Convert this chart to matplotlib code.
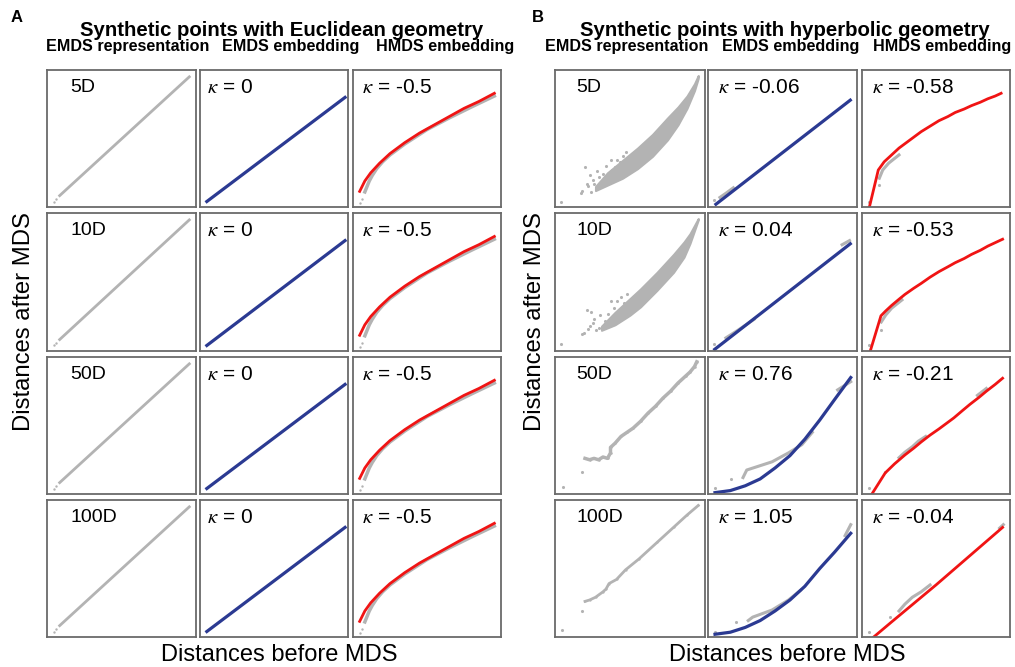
import matplotlib
matplotlib.use("Agg")
import matplotlib.pyplot as plt

plt.rcParams['font.family'] = ['Liberation Sans', 'DejaVu Sans']
plt.rcParams['mathtext.fontset'] = 'stix'
NA = float("nan")

# ---------------- data (normalised axis units) ----------------
col_headers = ["EMDS representation", "EMDS embedding", "HMDS embedding"]
a_title = "Synthetic points with Euclidean geometry"
b_title = "Synthetic points with hyperbolic geometry"
dims = ["5D", "10D", "50D", "100D"]
a_kappa_emds = ["0", "0", "0", "0"]
a_kappa_hmds = ["-0.5", "-0.5", "-0.5", "-0.5"]
b_kappa_emds = ["-0.06", "0.04", "0.76", "1.05"]
b_kappa_hmds = ["-0.58", "-0.53", "-0.21", "-0.04"]

# Panel A - EMDS representation (diagonal)
a_rep_pts_x = [0.045, 0.063]
a_rep_pts_y = [0.040, 0.058]
a_rep_line_x = [0.085, 0.955]
a_rep_line_y = [0.083, 0.950]
# Panel A - EMDS embedding (blue line)
a_emds_x = [0.046, 0.98]
a_emds_y = [0.040, 0.80]
# Panel A - HMDS embedding
a_hmds_curve_x = [0.045, 0.08, 0.12, 0.18, 0.25, 0.35, 0.45, 0.55, 0.65, 0.75, 0.85, 0.955]
a_hmds_curve_y = [0.114, 0.19, 0.25, 0.32, 0.39, 0.47, 0.54, 0.60, 0.66, 0.72, 0.77, 0.83]
a_hmds_pts_x = [0.045, 0.062]
a_hmds_pts_y = [0.030, 0.060]
a_hmds_gray_x = [0.08, 0.095, 0.11, 0.13, 0.16, 0.20, 0.25, 0.35, 0.50, 0.65, 0.80, 0.955]
a_hmds_gray_y = [0.11, 0.15, 0.19, 0.23, 0.28, 0.33, 0.38, 0.46, 0.565, 0.65, 0.73, 0.81]

# Panel B - EMDS representation, 5D (dense band + outliers)
b5_band_x = [0.27, 0.35, 0.45, 0.55, 0.65, 0.75, 0.82, 0.88, 0.93, 0.955]
b5_band_lo = [0.12, 0.16, 0.21, 0.28, 0.37, 0.49, 0.60, 0.72, 0.85, 0.94]
b5_band_hi = [0.15, 0.25, 0.34, 0.43, 0.53, 0.65, 0.73, 0.81, 0.90, 0.96]
b5_out_x = [0.04, 0.17, 0.18, 0.20, 0.21, 0.22, 0.23, 0.25, 0.26, 0.27, 0.29, 0.30, 0.32, 0.34,
            0.35, 0.37, 0.38, 0.40, 0.41, 0.43, 0.45, 0.47, 0.48, 0.24, 0.28, 0.31]
b5_out_y = [0.04, 0.10, 0.12, 0.29, 0.17, 0.15, 0.23, 0.20, 0.17, 0.13, 0.22, 0.15, 0.24, 0.30,
            0.22, 0.34, 0.27, 0.29, 0.34, 0.33, 0.37, 0.40, 0.35, 0.11, 0.26, 0.19]
# 10D
b10_band_x = [0.31, 0.40, 0.50, 0.57, 0.68, 0.79, 0.86, 0.90, 0.955]
b10_band_lo = [0.15, 0.19, 0.26, 0.32, 0.44, 0.57, 0.68, 0.78, 0.95]
b10_band_hi = [0.18, 0.28, 0.38, 0.45, 0.57, 0.70, 0.79, 0.85, 0.96]
b10_out_x = [0.04, 0.18, 0.19, 0.21, 0.22, 0.23, 0.24, 0.26, 0.27, 0.29, 0.30, 0.33, 0.35, 0.37,
             0.39, 0.41, 0.44, 0.46, 0.48, 0.50, 0.25]
b10_out_y = [0.05, 0.12, 0.13, 0.30, 0.16, 0.18, 0.28, 0.23, 0.15, 0.17, 0.26, 0.22, 0.27, 0.36,
             0.31, 0.36, 0.39, 0.35, 0.41, 0.34, 0.20]
# 50D
b50_x = [0.20, 0.23, 0.26, 0.29, 0.32, 0.35, 0.37, 0.37, 0.40, 0.44, 0.48, 0.52, 0.57, 0.62, 0.67, 0.72, 0.77, 0.82, 0.87, 0.90, 0.93, 0.945]
b50_y = [0.26, 0.25, 0.26, 0.25, 0.27, 0.26, 0.30, 0.34, 0.37, 0.42, 0.45, 0.48, 0.53, 0.59, 0.64, 0.70, 0.75, 0.81, 0.86, 0.89, 0.93, 0.965]
b50_pts_x = [0.05, 0.18]
b50_pts_y = [0.05, 0.16]
# 100D
b100_x = [0.20, 0.23, 0.27, 0.32, 0.34, 0.36, 0.41, 0.47, 0.56, 0.68, 0.79, 0.88, 0.955]
b100_y = [0.26, 0.27, 0.29, 0.33, 0.35, 0.39, 0.42, 0.49, 0.57, 0.69, 0.80, 0.89, 0.96]
b100_pts_x = [0.047, 0.18]
b100_pts_y = [0.05, 0.19]

# Panel B - EMDS embedding (blue fits + gray points; nan separates runs)
b_emds_fit_x = [
    [0.053, 0.955],
    [0.045, 0.955],
    [0.047, 0.15, 0.25, 0.35, 0.45, 0.55, 0.65, 0.75, 0.85, 0.958],
    [0.047, 0.15, 0.25, 0.35, 0.45, 0.55, 0.65, 0.75, 0.85, 0.958],
]
b_emds_fit_y = [
    [0.02, 0.78],
    [0.012, 0.777],
    [0.01, 0.025, 0.06, 0.11, 0.19, 0.28, 0.40, 0.54, 0.69, 0.85],
    [0.02, 0.035, 0.07, 0.12, 0.19, 0.27, 0.37, 0.50, 0.62, 0.757],
]
b_emds_gray_x = [
    [0.08, 0.12, 0.17],
    [0.12, 0.20, 0.31, NA, 0.90, 0.95],
    [0.235, 0.26, 0.43, 0.54, 0.63, 0.70, NA, 0.87, 0.958],
    [0.27, 0.30, 0.43, 0.54, 0.62, NA, 0.92, 0.958],
]
b_emds_gray_y = [
    [0.07, 0.10, 0.14],
    [0.095, 0.15, 0.23, NA, 0.77, 0.80],
    [0.12, 0.175, 0.235, 0.30, 0.36, 0.45, NA, 0.76, 0.82],
    [0.12, 0.145, 0.197, 0.27, 0.34, NA, 0.74, 0.82],
]
b_emds_dots_x = [[0.04], [0.04], [0.047, 0.155], [0.047, 0.19]]
b_emds_dots_y = [[0.05], [0.05], [0.046, 0.11], [0.04, 0.107]]

# Panel B - HMDS embedding (red fits + gray points)
b_hmds_fit_x = [
    [0.05, 0.11, 0.15, 0.20, 0.25, 0.30, 0.35, 0.40, 0.46, 0.52, 0.58, 0.63, 0.69, 0.74, 0.80, 0.85, 0.90, 0.94],
    [0.056, 0.128, 0.16, 0.20, 0.25, 0.29, 0.35, 0.40, 0.46, 0.52, 0.58, 0.63, 0.69, 0.74, 0.80, 0.85, 0.90, 0.95],
    [0.067, 0.157, 0.22, 0.29, 0.35, 0.40, 0.46, 0.52, 0.57, 0.62, 0.68, 0.73, 0.79, 0.84, 0.90, 0.95],
    [0.079, 0.20, 0.35, 0.50, 0.65, 0.80, 0.95],
]
b_hmds_fit_y = [
    [0.0, 0.27, 0.33, 0.38, 0.43, 0.47, 0.51, 0.55, 0.59, 0.63, 0.66, 0.69, 0.715, 0.74, 0.765, 0.79, 0.81, 0.83],
    [0.0, 0.255, 0.29, 0.33, 0.375, 0.41, 0.455, 0.49, 0.535, 0.575, 0.61, 0.64, 0.67, 0.70, 0.73, 0.76, 0.785, 0.81],
    [0.0, 0.154, 0.22, 0.285, 0.335, 0.38, 0.43, 0.475, 0.515, 0.555, 0.61, 0.655, 0.705, 0.75, 0.80, 0.845],
    [0.0, 0.11, 0.245, 0.38, 0.52, 0.66, 0.80],
]
b_hmds_gray_x = [
    [0.117, 0.14, 0.18, 0.25],
    [0.13, 0.16, 0.20, 0.27],
    [0.25, 0.29, 0.34, 0.38, 0.43, NA, 0.78, 0.84],
    [0.25, 0.29, 0.34, 0.40, 0.46, NA, 0.93, 0.955],
]
b_hmds_gray_y = [
    [0.21, 0.27, 0.32, 0.38],
    [0.21, 0.26, 0.31, 0.37],
    [0.265, 0.305, 0.345, 0.385, 0.42, NA, 0.72, 0.77],
    [0.19, 0.24, 0.29, 0.33, 0.38, NA, 0.795, 0.82],
]
b_hmds_dots_x = [[0.045, 0.117], [0.045, 0.128], [0.045, 0.157], [0.045, 0.19]]
b_hmds_dots_y = [[0.04, 0.16], [0.04, 0.15], [0.044, 0.16], [0.04, 0.147]]

# ---------------- style ----------------
GRAY = "#b3b3b3"
BLUE = "#2b3a92"
RED = "#f01414"
EDGE = "#6a6a6a"

W, H = 1015, 667
fig = plt.figure(figsize=(W / 100, H / 100), dpi=100)

row_tops = [70, 213, 357, 500]
row_bots = [207, 351, 494, 637]
a_cols = [(47, 196), (200, 348), (353, 501)]
b_cols = [(555, 705), (708, 857), (862, 1010)]


def make_ax(x0, x1, y0, y1):
    ax = fig.add_axes([x0 / W, 1 - y1 / H, (x1 - x0) / W, (y1 - y0) / H])
    ax.set_xlim(0, 1)
    ax.set_ylim(0, 1)
    ax.set_xticks([])
    ax.set_yticks([])
    for s in ax.spines.values():
        s.set_color(EDGE)
        s.set_linewidth(1.3)
    return ax


def label(ax, txt, dx, fs=15):
    ax.text(dx, 0.87, txt, transform=ax.transAxes, fontsize=fs, ha="left", va="center")


for r in range(4):
    y0, y1 = row_tops[r], row_bots[r]
    # ----- Panel A -----
    ax = make_ax(*a_cols[0], y0, y1)
    ax.scatter(a_rep_pts_x, a_rep_pts_y, s=3, color=GRAY, lw=0)
    ax.plot(a_rep_line_x, a_rep_line_y, color=GRAY, lw=2)
    label(ax, dims[r], 0.155, 14)

    ax = make_ax(*a_cols[1], y0, y1)
    ax.plot(a_emds_x, a_emds_y, color=BLUE, lw=2.3)
    label(ax, r"$\kappa$ = " + a_kappa_emds[r], 0.05)

    ax = make_ax(*a_cols[2], y0, y1)
    ax.scatter(a_hmds_pts_x, a_hmds_pts_y, s=3, color=GRAY, lw=0)
    ax.plot(a_hmds_gray_x, a_hmds_gray_y, color=GRAY, lw=2.5)
    ax.plot(a_hmds_curve_x, a_hmds_curve_y, color=RED, lw=2.0)
    label(ax, r"$\kappa$ = " + a_kappa_hmds[r], 0.06)

    # ----- Panel B -----
    ax = make_ax(*b_cols[0], y0, y1)
    if r == 0:
        ax.fill_between(b5_band_x, b5_band_lo, b5_band_hi, color=GRAY, lw=1.5, edgecolor=GRAY)
        ax.scatter(b5_out_x, b5_out_y, s=5, color=GRAY, lw=0)
    elif r == 1:
        ax.fill_between(b10_band_x, b10_band_lo, b10_band_hi, color=GRAY, lw=1.5, edgecolor=GRAY)
        ax.scatter(b10_out_x, b10_out_y, s=5, color=GRAY, lw=0)
    elif r == 2:
        ax.plot(b50_x, b50_y, color=GRAY, lw=2.5, marker="o", ms=1.8, mew=0)
        ax.scatter(b50_pts_x, b50_pts_y, s=5, color=GRAY, lw=0)
    else:
        ax.plot(b100_x, b100_y, color=GRAY, lw=2.0, marker="o", ms=1.6, mew=0)
        ax.scatter(b100_pts_x, b100_pts_y, s=5, color=GRAY, lw=0)
    label(ax, dims[r], 0.14, 14)

    ax = make_ax(*b_cols[1], y0, y1)
    ax.scatter(b_emds_dots_x[r], b_emds_dots_y[r], s=5, color=GRAY, lw=0)
    ax.plot(b_emds_gray_x[r], b_emds_gray_y[r], color=GRAY, lw=2.2)
    ax.plot(b_emds_fit_x[r], b_emds_fit_y[r], color=BLUE, lw=2.3)
    label(ax, r"$\kappa$ = " + b_kappa_emds[r], 0.065)

    ax = make_ax(*b_cols[2], y0, y1)
    ax.scatter(b_hmds_dots_x[r], b_hmds_dots_y[r], s=5, color=GRAY, lw=0)
    ax.plot(b_hmds_gray_x[r], b_hmds_gray_y[r], color=GRAY, lw=2.2)
    ax.plot(b_hmds_fit_x[r], b_hmds_fit_y[r], color=RED, lw=2.0)
    label(ax, r"$\kappa$ = " + b_kappa_hmds[r], 0.065)

# ---------------- text ----------------
def ftext(x, y, s, **kw):
    fig.text(x / W, 1 - y / H, s, **kw)

ftext(17, 18, "A", fontsize=12, fontweight="bold", ha="center", va="center")
ftext(538, 18, "B", fontsize=12, fontweight="bold", ha="center", va="center")
ftext(282, 31, a_title, fontsize=14.7, fontweight="bold", ha="center", va="center")
ftext(785, 31, b_title, fontsize=14.7, fontweight="bold", ha="center", va="center")

a_head_x = [128, 291, 445]
b_head_x = [627, 791, 942]
for i, h in enumerate(col_headers):
    ftext(a_head_x[i], 46, h, fontsize=11.6, fontweight="bold", ha="center", va="center")
    ftext(b_head_x[i], 46, h, fontsize=11.6, fontweight="bold", ha="center", va="center")

ftext(24, 322, "Distances after MDS", fontsize=17.2, rotation=90, ha="center", va="center")
ftext(535, 322, "Distances after MDS", fontsize=17.2, rotation=90, ha="center", va="center")
ftext(279, 655, "Distances before MDS", fontsize=17, ha="center", va="center")
ftext(787, 655, "Distances before MDS", fontsize=17, ha="center", va="center")

fig.savefig("out.png", dpi=100)
